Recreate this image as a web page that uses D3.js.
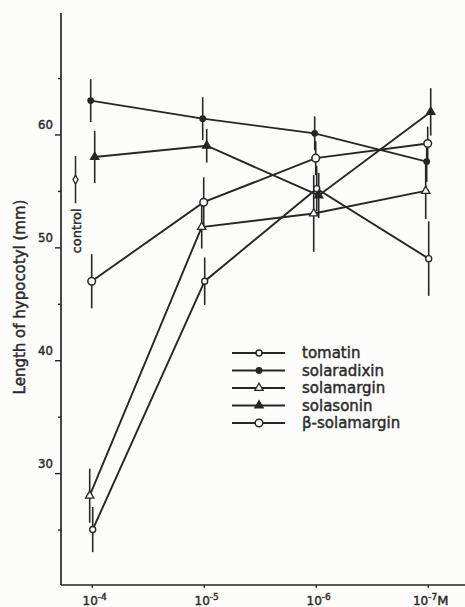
<!DOCTYPE html>
<html><head><meta charset="utf-8">
<script src="https://cdn.jsdelivr.net/npm/d3@7"></script>
<style>
html,body{margin:0;padding:0;background:#fcfcfa;}
svg{display:block;}
text{font-family:"DejaVu Sans",sans-serif;fill:#2b2b2b;stroke:#2b2b2b;stroke-width:0.45px;}
</style></head>
<body>
<svg id="chart" width="465" height="607"></svg>
<script>
// ---- data ----
const exponents = [-4, -5, -6, -7];
const xTickLabels = ["10", "10", "10", "10"];
const xTickSup = ["-4", "-5", "-6", "-7"];
const yMajorTicks = [30, 40, 50, 60];
const yMinorTicks = [25, 35, 45, 55, 65];
const seriesNames = ["tomatin", "solaradixin", "solamargin", "solasonin", "β-solamargin"];
const tomatin      = [25, 47, 55.2, 49];
const solaradixin  = [63, 61.4, 60.1, 57.6];
const solamargin   = [28, 51.8, 53, 55];
const solasonin    = [58, 59, 54.6, 62];
const betaSolamargin = [47, 54, 57.9, 59.2];
const tomatinErr   = [2.0, 2.1, 2.0, 3.3];
const solaradixinErr = [1.9, 1.9, 1.5, 1.8];
const solamarginErr = [2.4, 1.9, 3.4, 2.5];
const solasoninErr = [2.3, 1.5, 2.0, 2.1];
const betaSolamarginErr = [2.4, 2.2, 1.5, 1.5];
const controlValue = 56;
const controlErr = 2.1;

// ---- style ----
const ink = "#262626";
const markerType = ["openSmallCircle", "filledCircle", "openTriangle", "filledTriangle", "openCircle"];
const dxOffset = [1, -1, -2, 3, 0];

const seriesValues = [tomatin, solaradixin, solamargin, solasonin, betaSolamargin];
const seriesErrs = [tomatinErr, solaradixinErr, solamarginErr, solasoninErr, betaSolamarginErr];

const svg = d3.select("#chart");
svg.append("rect").attr("width", 465).attr("height", 607).attr("fill", "#fcfcfa");

const x = d3.scaleLinear().domain([-4, -7]).range([91.7, 427.7]);
const y = d3.scaleLinear().domain([20, 70.76]).range([586, 13]);

const axisX0 = 61, axisY0 = 585;

svg.append("line").attr("x1", axisX0).attr("x2", axisX0).attr("y1", y.range()[1]).attr("y2", axisY0)
  .attr("stroke", ink).attr("stroke-width", 1.7);
svg.append("line").attr("x1", axisX0).attr("x2", 465).attr("y1", axisY0).attr("y2", axisY0)
  .attr("stroke", ink).attr("stroke-width", 1.7);

// y ticks
const gY = svg.append("g").attr("transform", `translate(${axisX0},0)`)
  .call(d3.axisLeft(y).tickValues(yMajorTicks).tickSize(6).tickFormat(d3.format("d")));
gY.select(".domain").remove();
gY.selectAll(".tick line").attr("stroke", ink).attr("stroke-width", 1.4);
gY.selectAll(".tick text").attr("x", -8).attr("dy", "-0.45em")
  .style("font-size", "13px").style("font-family", "'DejaVu Sans Condensed','DejaVu Sans',sans-serif")
  .attr("fill", ink).attr("text-anchor", "end");
const gYm = svg.append("g").attr("transform", `translate(${axisX0},0)`)
  .call(d3.axisLeft(y).tickValues(yMinorTicks).tickSize(3).tickFormat(""));
gYm.select(".domain").remove();
gYm.selectAll(".tick line").attr("stroke", ink).attr("stroke-width", 1.4);

// x ticks
const gX = svg.append("g").attr("transform", `translate(0,${axisY0})`)
  .call(d3.axisBottom(x).tickValues(exponents).tickSize(3).tickFormat(""));
gX.select(".domain").remove();
gX.selectAll(".tick line").attr("stroke", ink).attr("stroke-width", 1.4);
exponents.forEach((e, i) => {
  const t = svg.append("text").attr("x", x(e) + 3).attr("y", 605)
    .attr("text-anchor", "middle").style("font-size", "12px");
  t.append("tspan").text(xTickLabels[i]);
  t.append("tspan").attr("dy", "-5").style("font-size", "9px").text(xTickSup[i]);
  if (i === exponents.length - 1) t.append("tspan").attr("dy", "5").style("font-size", "13px").text("M");
});

// y label
svg.append("text").attr("transform", "translate(25,297) rotate(-90)")
  .attr("text-anchor", "middle").style("font-size", "15px").text("Length of hypocotyl (mm)");

// series lines
const line = d3.line().x(d => d[0]).y(d => d[1]);
seriesValues.forEach((vals, s) => {
  const pts = vals.map((v, i) => [x(exponents[i]) + dxOffset[s], y(v)]);
  svg.append("path").attr("d", line(pts)).attr("fill", "none").attr("stroke", ink).attr("stroke-width", 1.9);
});
// error bars
seriesValues.forEach((vals, s) => {
  vals.forEach((v, i) => {
    const cx = x(exponents[i]) + dxOffset[s];
    svg.append("line").attr("x1", cx).attr("x2", cx)
      .attr("y1", y(v - seriesErrs[s][i])).attr("y2", y(v + seriesErrs[s][i]))
      .attr("stroke", ink).attr("stroke-width", 1.6);
  });
});

function drawMarker(g, type, cx, cy) {
  if (type === "openSmallCircle") {
    g.append("circle").attr("cx", cx).attr("cy", cy).attr("r", 3).attr("fill", "#fff").attr("stroke", ink).attr("stroke-width", 1.4);
  } else if (type === "openCircle") {
    g.append("circle").attr("cx", cx).attr("cy", cy).attr("r", 3.8).attr("fill", "#fff").attr("stroke", ink).attr("stroke-width", 1.5);
  } else if (type === "filledCircle") {
    g.append("circle").attr("cx", cx).attr("cy", cy).attr("r", 3.4).attr("fill", ink);
  } else {
    const sym = d3.symbol().type(d3.symbolTriangle).size(30);
    g.append("path").attr("d", sym()).attr("transform", `translate(${cx},${cy})`)
      .attr("fill", type === "filledTriangle" ? ink : "#fff").attr("stroke", ink).attr("stroke-width", 1.3);
  }
}
seriesValues.forEach((vals, s) => {
  vals.forEach((v, i) => drawMarker(svg, markerType[s], x(exponents[i]) + dxOffset[s], y(v)));
});

// control
const ctrlX = 75.5;
svg.append("line").attr("x1", ctrlX).attr("x2", ctrlX).attr("y1", y(controlValue + controlErr)).attr("y2", y(controlValue - controlErr))
  .attr("stroke", ink).attr("stroke-width", 1.5);
svg.append("path").attr("d", d3.symbol().type(d3.symbolDiamond).size(22)())
  .attr("transform", `translate(${ctrlX},${y(controlValue)})`).attr("fill", "#fff").attr("stroke", ink).attr("stroke-width", 1.3);
svg.append("text").attr("transform", `translate(${ctrlX + 5},${y(controlValue - controlErr) + 5}) rotate(-90)`)
  .attr("text-anchor", "end").style("font-size", "13px").text("control");

// legend
const legX1 = 232, legX2 = 285, legMX = 259, legTX = 302, legY0 = 353, legDy = 17.5;
seriesNames.forEach((n, s) => {
  const ly = legY0 + s * legDy;
  svg.append("line").attr("x1", legX1).attr("x2", legX2).attr("y1", ly).attr("y2", ly).attr("stroke", ink).attr("stroke-width", 1.9);
  drawMarker(svg, markerType[s], legMX, ly);
  svg.append("text").attr("x", legTX).attr("y", ly + 5).style("font-size", "15px").text(n);
});
</script>
</body></html>
